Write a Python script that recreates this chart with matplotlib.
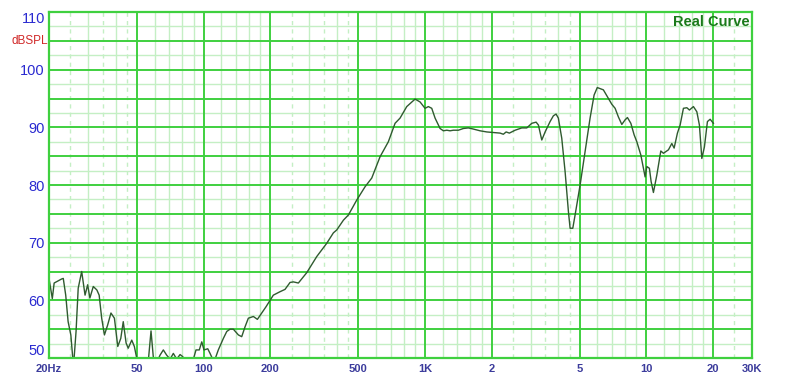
import numpy as np
import matplotlib
matplotlib.use("Agg")
import matplotlib.pyplot as plt

# ---- data ----
freq_hz = [20.0, 20.7, 21.1, 22.8, 23.2, 23.8, 24.4, 25.1, 25.8, 26.5, 27.1, 28.1, 29.1, 29.9,
           30.6, 31.7, 32.9, 33.7, 34.6, 35.6, 36.8, 38.1, 39.5, 40.9, 42.2, 43.3, 44.6, 45.6,
           47.3, 48.6, 50.1, 53.0, 56.2, 57.8, 59.4, 61.0, 63.5, 65.7, 68.0, 70.5, 72.9, 75.5,
           78.2, 80.0, 82.3, 89.8, 92.3, 95.5, 98.0, 100.3, 104.3, 106.8, 109.8, 112.5, 116.4,
           122.7, 127.1, 131.5, 136.1, 143.4, 148.5, 153.7, 159.1, 167.6, 174.8, 182.9, 191.3,
           197.9, 206.3, 221.3, 233.0, 245.5, 254.1, 267.7, 292.1, 324.2, 359.7, 385.3, 399.0,
           427.7, 450.5, 491.5, 535.8, 574.3, 626.2, 682.7, 732.0, 771.0, 826.7, 901.5, 949.6,
           1000, 1035, 1072, 1110, 1169, 1210, 1254, 1297, 1343, 1414, 1490, 1569, 1653, 1772,
           1901, 2036, 2183, 2258, 2324, 2404, 2552, 2735, 2882, 3036, 3175, 3252, 3368, 3487,
           3672, 3800, 3908, 4002, 4146, 4293, 4443, 4522, 4650, 4763, 5018, 5284, 5566, 5804,
           6000, 6392, 6734, 6978, 7222, 7474, 7744, 8014, 8210, 8506, 8802, 9052, 9438, 9696,
           9868, 10044, 10318, 10504, 10758, 11144, 11618, 11938, 12576, 13028, 13344, 13810,
           14204, 14700, 15232, 15650, 16312, 16900, 17358, 17800, 18286, 18868, 19406, 20082]
spl_db = [63.8, 60.3, 63.0, 63.7, 63.8, 60.9, 56.3, 54.0, 48.5, 54.6, 62.1, 65.0, 60.9, 62.7,
          60.4, 62.4, 61.8, 60.9, 56.9, 54.0, 55.7, 57.8, 56.9, 52.0, 53.4, 56.3, 52.6, 51.7,
          53.1, 52.0, 49.5, 48.5, 49.5, 54.7, 49.5, 49.0, 50.5, 51.4, 50.5, 49.8, 50.8, 49.8,
          50.6, 50.3, 49.8, 49.8, 51.4, 51.4, 52.8, 51.4, 51.6, 50.8, 49.8, 49.8, 51.4,
          53.4, 54.6, 55.0, 55.0, 54.0, 53.7, 55.4, 56.9, 57.2, 56.7, 57.8, 58.9,
          59.8, 60.9, 61.5, 61.9, 63.1, 63.2, 63.0, 64.8, 67.6, 69.9, 71.7, 72.2,
          73.9, 74.8, 77.4, 79.7, 81.2, 84.9, 87.5, 90.7, 91.6, 93.6, 94.9, 94.4,
          93.3, 93.6, 93.3, 91.6, 89.8, 89.4, 89.5, 89.4, 89.5, 89.5, 89.8, 89.9, 89.7, 89.4,
          89.2, 89.1, 89.0, 88.8, 89.2, 89.0, 89.5, 89.9, 89.9, 90.7, 90.9, 90.4, 87.8, 89.2,
          91.0, 92.0, 92.3, 91.6, 88.1, 82.3, 75.4, 72.5, 72.5, 74.8, 80.0, 85.8, 91.6, 95.6,
          96.9, 96.5, 95.0, 94.0, 93.3, 91.8, 90.5, 91.3, 91.7, 90.7, 88.7, 87.5, 85.2, 82.9,
          81.4, 83.2, 82.9, 80.6, 78.7, 81.7, 85.9, 85.5, 86.1, 87.2, 86.4, 89.0,
          90.4, 93.3, 93.4, 93.0, 93.6, 92.7, 90.4, 84.6, 86.6, 91.0, 91.4, 90.7]

x_ticks = [20, 50, 100, 200, 500, 1000, 2000, 5000, 10000, 20000, 30000]
x_tick_labels = ["20Hz", "50", "100", "200", "500", "1K", "2", "5", "10", "20", "30K"]
y_ticks = [50, 60, 70, 80, 90, 100, 110]
y_tick_labels = ["50", "60", "70", "80", "90", "100", "110"]

# ---- styling ----
W, H = 800, 379
L, R, B, T = 49, 752, 358, 12
MAJOR = "#3fd03f"
MINOR = "#c4efc4"

fig = plt.figure(figsize=(W / 100, H / 100), dpi=100)
ax = fig.add_axes([L / W, 1 - B / H, (R - L) / W, (B - T) / H])
ax.set_xscale("log")
ax.set_xlim(20, 30000)
ax.set_ylim(50, 110)

# grid
minor_solid = []
minor_dash = []
for dec in [10, 100, 1000, 10000]:
    for m in [1.2, 1.4, 1.6, 1.8, 3, 4, 6, 7, 8, 9]:
        minor_solid.append(m * dec)
    for m in [2.5, 3.5, 4.5]:
        minor_dash.append(m * dec)
for v in minor_solid:
    if 20 < v < 30000:
        ax.axvline(v, color=MINOR, lw=1.0, zorder=1)
for v in minor_dash:
    if 20 < v < 30000:
        ax.axvline(v, color=MINOR, lw=1.0, ls=(0, (3, 3)), zorder=1)
for yv in np.arange(52.5, 110, 5):
    ax.axhline(yv, color=MINOR, lw=1.0, zorder=1)
for yv in np.arange(55, 110, 5):
    ax.axhline(yv, color=MAJOR, lw=1.4, zorder=2)
for v in x_ticks[1:-1]:
    ax.axvline(v, color=MAJOR, lw=1.4, zorder=2)

for s in ax.spines.values():
    s.set_color(MAJOR)
    s.set_linewidth(1.6)
    s.set_zorder(4)

ax.plot(freq_hz, spl_db, color="#2f5a2f", lw=1.0, zorder=3)

# ticks
ax.set_xticks(x_ticks)
ax.set_xticklabels(x_tick_labels, fontsize=8, fontweight="bold", color="#3c3c9c",
                   family="Liberation Sans")
ax.xaxis.set_minor_locator(matplotlib.ticker.NullLocator())
ax.set_yticks(y_ticks)
ax.set_yticklabels(y_tick_labels, fontsize=10.5, color="#2a2ad0", family="Liberation Sans")
ax.tick_params(axis="x", length=0, pad=4)
ax.tick_params(axis="y", length=0, pad=3)
ylabs = ax.get_yticklabels()
ylabs[0].set_va("bottom")
ylabs[-1].set_va("top")

fig.text(48 / W, 1 - 41 / H, "dBSPL", color="#d02828", fontsize=8.5, ha="right", va="center",
         family="Liberation Sans")
ax.text(0.997, 0.971, "Real Curve", transform=ax.transAxes, ha="right", va="center",
        fontsize=10.5, fontweight="bold", color="#1a7a1a", family="Liberation Sans", zorder=5)

fig.savefig("out.png", dpi=100, facecolor="white")
